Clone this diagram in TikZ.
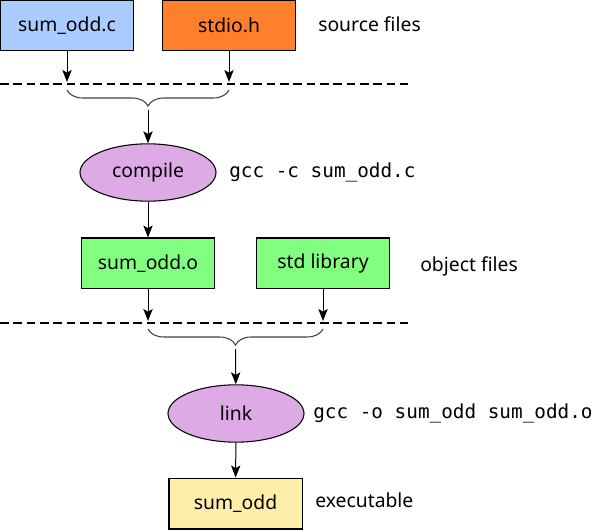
\documentclass[tikz,border=0pt]{standalone}
\usepackage{fontspec}
\setmainfont{Noto Sans}
\setmonofont{DejaVu Sans Mono}
\usetikzlibrary{positioning,shapes.geometric,decorations.pathreplacing,arrows.meta}

\definecolor{srcblue}{HTML}{AACCFF}
\definecolor{hdrorange}{HTML}{FF7F2A}
\definecolor{objgreen}{HTML}{80FF80}
\definecolor{toolpurple}{HTML}{DDAAE6}
\definecolor{exeyellow}{HTML}{FFEEAA}

\tikzset{
  file/.style={draw, line width=1pt, minimum width=100pt, minimum height=38pt, inner sep=0pt},
  tool/.style={draw, ellipse, line width=0.8pt, fill=toolpurple, minimum width=102pt, minimum height=43pt, inner sep=0pt},
  cmd/.style={font=\ttfamily\fontsize{14.5}{17}\selectfont, anchor=west, inner sep=0pt},
  note/.style={anchor=west, inner sep=0pt},
  flow/.style={line width=0.75pt, -{Stealth[length=9pt,width=7pt,inset=2pt]}},
  stage/.style={line width=1.4pt, dash pattern=on 6.5pt off 3.5pt},
  gather/.style={decorate, decoration={brace, mirror, amplitude=12pt}, draw=black!75, line width=0.8pt}
}

\begin{document}
\begin{tikzpicture}[x=0.75pt, y=-0.75pt, font=\fontsize{14.5}{17}\selectfont]
  \useasboundingbox (0,0) rectangle (592,530);

  % source files
  \node [file, fill=srcblue] (src) at (67,25.5) {sum\_odd.c};
  \node [file, fill=hdrorange] (hdr) at (229,25.5) {stdio.h};
  \node [note] (srclbl) at (318,24) {source files};

  \coordinate (s1) at (67,82);
  \coordinate (s2) at (229,82);
  \draw [flow] (src) -- (s1);
  \draw [flow] (hdr) -- (s2);

  \coordinate (d1) at (0,84);
  \coordinate (d2) at (408,84);
  \draw [stage] (d1) -- (d2);

  \coordinate (b1) at (67,90);
  \coordinate (b2) at (229,90);
  \draw [gather] (b1) -- (b2);
  \coordinate (m1) at (148,110);

  %%

  \node [tool] (compile) at (148,172.5) {compile};
  \node [cmd] (ccmd) at (229,172) {gcc -c sum\_odd.c};
  \draw [flow] (m1) -- (compile);

  % object files
  \node [file, fill=objgreen] (obj) at (148,263.5) {sum\_odd.o};
  \node [file, fill=objgreen] (lib) at (323,263.5) {std library};
  \node [note] (objlbl) at (420,266) {object files};
  \draw [flow] (compile) -- (obj);

  \coordinate (o1) at (148,321);
  \coordinate (o2) at (323,321);
  \draw [flow] (obj) -- (o1);
  \draw [flow] (lib) -- (o2);

  \coordinate (d3) at (0,323);
  \coordinate (d4) at (408,323);
  \draw [stage] (d3) -- (d4);

  \coordinate (b3) at (148,329);
  \coordinate (b4) at (323,329);
  \draw [gather] (b3) -- (b4);
  \coordinate (m2) at (235.5,349);

  %%

  \node [tool] (link) at (236,413.5) {link};
  \node [cmd] (lcmd) at (313,413) {gcc -o sum\_odd sum\_odd.o};
  \draw [flow] (m2) -- (link);

  % executable
  \node [file, fill=exeyellow] (exe) at (235.5,503.5) {sum\_odd};
  \node [note] (exelbl) at (315,500) {executable};
  \draw [flow] (link) -- (exe);
\end{tikzpicture}
\end{document}
